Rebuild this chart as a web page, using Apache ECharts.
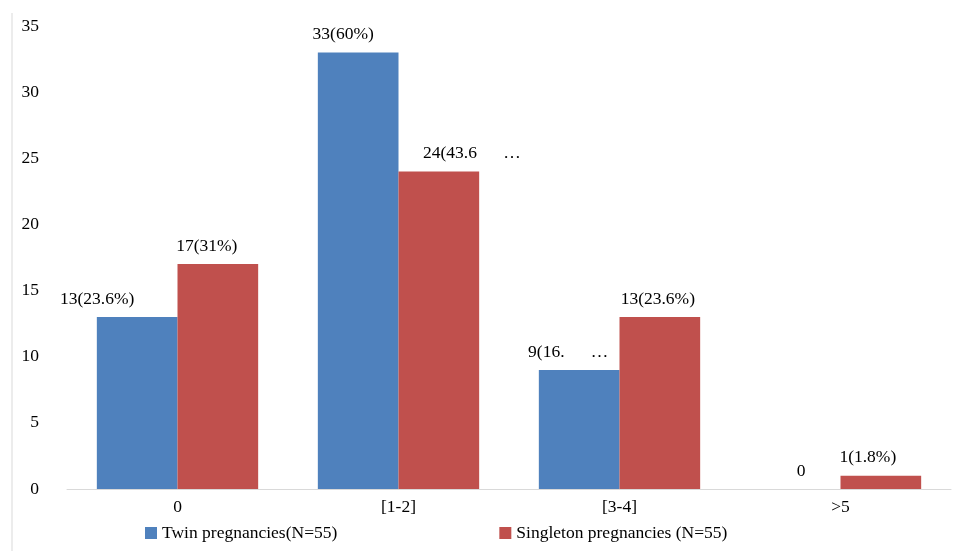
<!DOCTYPE html>
<html>
<head>
<meta charset="utf-8">
<script src="https://cdn.jsdelivr.net/npm/echarts@6/dist/echarts.min.js"></script>
<style>
  html,body{margin:0;padding:0;background:#fff;}
  #main{width:966px;height:551px;}
</style>
</head>
<body>
<div id="main"></div>
<script>
// categories and values
var categories = ['0', '[1-2]', '[3-4]', '>5'];
var twinValues = [13, 33, 9, 0];
var singletonValues = [17, 24, 13, 1];
var twinLabels = ['13(23.6%)', '33(60%)', '9(16.      \u2026', '0'];
var singletonLabels = ['17(31%)', '24(43.6      \u2026', '13(23.6%)', '1(1.8%)'];
var twinOffsets = [[-40, 0], [-15, 0], [-11, 0], [1, 0]];
var singletonOffsets = [[-11, 0], [33, 0], [-2, 0], [-13, 0]];
var yTicks = { min: 0, max: 35, interval: 5 };

var font = '"Liberation Serif", "Times New Roman", serif';
var fs = 17.5;

function buildData(values, labels, offsets) {
  return values.map(function (v, i) {
    return { value: v, label: { formatter: labels[i], offset: offsets[i] } };
  });
}

var chart = echarts.init(document.getElementById('main'));
chart.setOption({
  animation: false,
  textStyle: { fontFamily: font },
  graphic: [{
    type: 'line',
    shape: { x1: 12, y1: 13, x2: 12, y2: 551 },
    style: { stroke: '#d9d9d9', lineWidth: 1 }
  }],
  grid: { left: 67, right: 15, top: 26, bottom: 62 },
  legend: {
    left: 140,
    bottom: 4,
    itemWidth: 12,
    itemHeight: 12,
    itemGap: 162,
    icon: 'rect',
    textStyle: { fontFamily: font, fontSize: fs, color: '#000' },
    data: ['Twin pregnancies(N=55)', 'Singleton pregnancies (N=55)']
  },
  xAxis: {
    type: 'category',
    data: categories,
    axisLine: { lineStyle: { color: '#d9d9d9' } },
    axisTick: { show: false },
    axisLabel: { fontFamily: font, fontSize: fs, color: '#000', margin: 9 }
  },
  yAxis: {
    type: 'value',
    min: yTicks.min,
    max: yTicks.max,
    interval: yTicks.interval,
    splitLine: { show: false },
    axisLine: { show: false },
    axisTick: { show: false },
    axisLabel: { fontFamily: font, fontSize: fs, color: '#000', margin: 28 }
  },
  series: [
    {
      name: 'Twin pregnancies(N=55)',
      type: 'bar',
      barGap: '0%',
      barCategoryGap: '27%',
      itemStyle: { color: '#4f81bd' },
      label: { show: true, position: 'top', distance: 9, fontFamily: font, fontSize: fs, color: '#000' },
      data: buildData(twinValues, twinLabels, twinOffsets)
    },
    {
      name: 'Singleton pregnancies (N=55)',
      type: 'bar',
      itemStyle: { color: '#c0504d' },
      label: { show: true, position: 'top', distance: 9, fontFamily: font, fontSize: fs, color: '#000' },
      data: buildData(singletonValues, singletonLabels, singletonOffsets)
    }
  ]
});
</script>
</body>
</html>
